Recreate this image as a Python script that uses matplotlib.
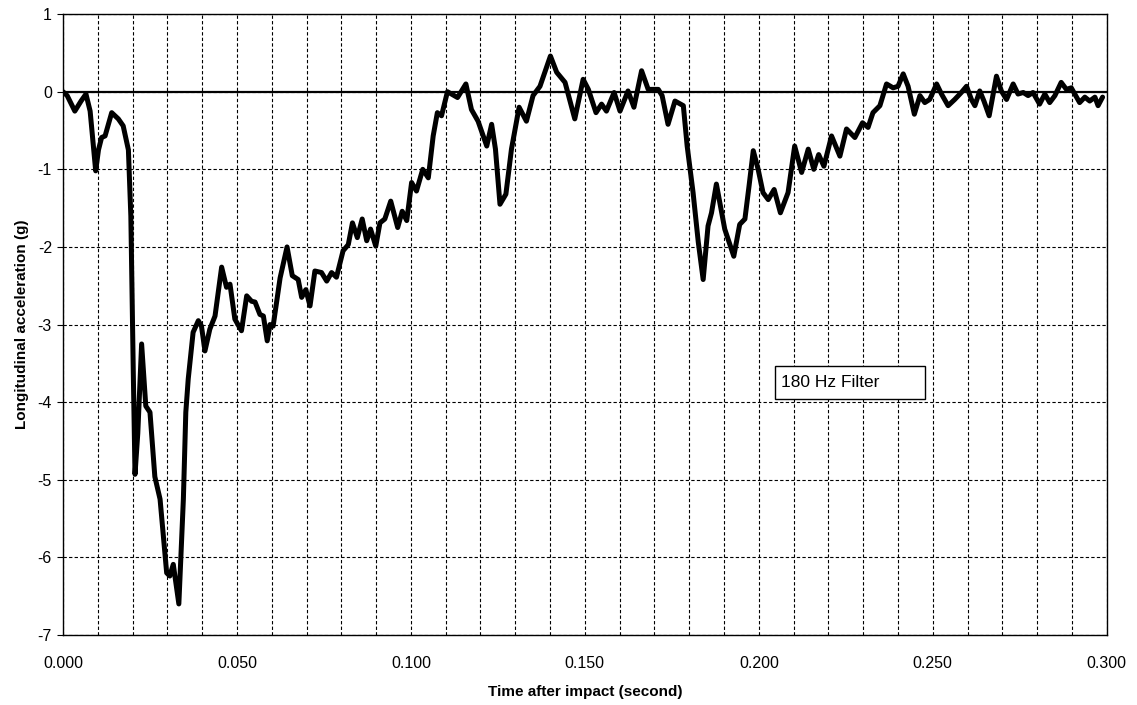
import numpy as np
import matplotlib
matplotlib.use('Agg')
import matplotlib.pyplot as plt
from matplotlib.ticker import MultipleLocator, FormatStrFormatter
from matplotlib.patches import Rectangle

plt.rcParams['font.family'] = ['Liberation Sans', 'DejaVu Sans']
plt.rcParams['axes.unicode_minus'] = False

# time after impact (ms) and longitudinal acceleration (g), 180 Hz filtered
time_ms = np.array([
    0.0, 1.2, 3.4, 5.2, 6.6, 7.8, 9.4, 10.2, 11.1, 12.1, 14.0, 15.9, 17.3,
    18.8, 19.5, 20.2, 20.7, 21.5, 22.6, 23.8, 25.0, 26.4, 27.9, 29.8, 30.7,
    31.7, 33.3, 34.6, 35.3, 36.0, 37.4, 38.9, 39.8, 40.8, 42.2, 43.7, 45.6,
    47.0, 48.0, 49.4, 51.3, 52.8, 54.2, 55.2, 56.6, 57.6, 58.7, 59.5, 60.4,
    62.4, 64.4, 65.9, 67.6, 68.6, 69.8, 71.0, 72.4, 74.3, 75.8, 77.2, 78.6,
    80.5, 82.0, 83.2, 84.6, 86.0, 87.3, 88.4, 89.9, 91.1, 92.5, 94.2, 96.2,
    97.5, 98.8, 100.2, 101.6, 103.4, 105.0, 106.4, 107.6, 108.8, 110.5,
    113.4, 115.8, 117.4, 119.3, 121.8, 123.2, 124.3, 125.6, 127.3, 128.9,
    131.1, 133.2, 135.1, 137.1, 140.1, 141.9, 144.3, 147.1, 149.5, 151.0,
    153.2, 154.8, 156.2, 158.4, 160.1, 162.4, 164.1, 166.3, 168.2, 171.1,
    172.2, 173.9, 175.9, 178.3, 179.4, 181.1, 182.6, 184.0, 185.4, 186.4,
    187.8, 190.2, 192.8, 194.5, 196.0, 197.2, 198.4, 199.8, 201.2, 202.7,
    204.4, 206.2, 208.4, 210.3, 212.3, 214.2, 215.8, 217.2, 218.7, 220.9,
    223.3, 225.2, 227.6, 229.8, 231.4, 232.8, 234.8, 236.7, 238.6, 240.0,
    241.5, 242.9, 244.7, 246.3, 247.7, 249.1, 251.1, 252.5, 254.4, 256.3,
    258.2, 259.7, 261.1, 262.1, 263.5, 264.7, 266.2, 268.3, 269.7, 271.2,
    273.1, 274.5, 276.0, 277.4, 278.8, 280.7, 282.2, 283.6, 285.1, 286.9,
    288.4, 289.8, 291.3, 292.2, 293.7, 295.1, 296.6, 297.5, 298.8,
])
accel_g = np.array([
    0.0, -0.05, -0.25, -0.12, -0.03, -0.25, -1.02, -0.75, -0.59, -0.57, -0.27,
    -0.35, -0.44, -0.75, -1.6, -3.6, -4.93, -4.4, -3.25, -4.05, -4.13, -4.96,
    -5.25, -6.2, -6.24, -6.09, -6.6, -5.25, -4.13, -3.7, -3.1, -2.95, -3.02,
    -3.34, -3.06, -2.89, -2.26, -2.52, -2.48, -2.93, -3.08, -2.63, -2.70,
    -2.71, -2.87, -2.89, -3.21, -3.0, -3.02, -2.40, -2.0, -2.37, -2.42, -2.65,
    -2.55, -2.76, -2.31, -2.33, -2.44, -2.33, -2.39, -2.05, -1.97, -1.69,
    -1.88, -1.64, -1.92, -1.77, -1.99, -1.69, -1.64, -1.41, -1.75, -1.54,
    -1.66, -1.17, -1.28, -1.0, -1.11, -0.57, -0.27, -0.31, 0.0, -0.075, 0.1,
    -0.23, -0.38, -0.70, -0.42, -0.74, -1.45, -1.32, -0.74, -0.2, -0.38,
    -0.05, 0.07, 0.46, 0.25, 0.12, -0.35, 0.16, 0.03, -0.27, -0.16, -0.25,
    -0.01, -0.25, 0.01, -0.2, 0.27, 0.03, 0.03, -0.05, -0.42, -0.12, -0.18,
    -0.70, -1.30, -1.94, -2.42, -1.73, -1.56, -1.19, -1.77, -2.12, -1.71,
    -1.64, -1.21, -0.76, -1.0, -1.30, -1.39, -1.26, -1.56, -1.30, -0.70,
    -1.04, -0.74, -1.0, -0.81, -0.96, -0.57, -0.83, -0.48, -0.59, -0.40,
    -0.46, -0.27, -0.18, 0.10, 0.05, 0.07, 0.23, 0.07, -0.29, -0.05, -0.14,
    -0.10, 0.10, -0.03, -0.18, -0.10, -0.01, 0.07, -0.10, -0.18, 0.01, -0.12,
    -0.31, 0.20, 0.01, -0.10, 0.10, -0.03, -0.01, -0.05, -0.01, -0.16, -0.03,
    -0.14, -0.05, 0.12, 0.03, 0.05, -0.07, -0.14, -0.07, -0.12, -0.07, -0.18,
    -0.07,
])
time_s = time_ms / 1000.0

fig = plt.figure(figsize=(11.37, 7.05), dpi=100, facecolor='w')
ax = fig.add_axes([0.0554, 0.0993, 0.918, 0.8807])

ax.plot([0.0, 0.3], [0.0, 0.0], color='black', lw=1.6, zorder=2)
ax.plot(time_s, accel_g, color='black', lw=3.6, solid_joinstyle='round',
        solid_capstyle='round', zorder=3)

ax.set_xlim(0.0, 0.3)
ax.set_ylim(-7, 1)
ax.xaxis.set_major_locator(MultipleLocator(0.05))
ax.xaxis.set_minor_locator(MultipleLocator(0.01))
ax.xaxis.set_major_formatter(FormatStrFormatter('%.3f'))
ax.yaxis.set_major_locator(MultipleLocator(1))
ax.grid(which='both', axis='x', color='black', ls=(0, (3, 2)), lw=0.8)
ax.grid(which='major', axis='y', color='black', ls=(0, (3, 2)), lw=0.8)
ax.tick_params(axis='x', which='both', length=0, pad=15, labelsize=11.5)
ax.tick_params(axis='y', length=4, width=0.8, labelsize=11.5, pad=4)
for s in ax.spines.values():
    s.set_linewidth(1.0)

ax.set_xlabel('Time after impact (second)', fontsize=11, fontweight='bold',
              labelpad=10)
ax.set_ylabel('Longitudinal acceleration (g)', fontsize=11, fontweight='bold',
              labelpad=6)

ax.add_patch(Rectangle((0.2046, -3.963), 0.0431, 0.426, facecolor='white',
                       edgecolor='black', lw=1.0, zorder=4))
ax.text(0.2063, -3.75, '180 Hz Filter', fontsize=12.5, va='center',
        ha='left', zorder=5)

fig.savefig('out.png', dpi=100)
